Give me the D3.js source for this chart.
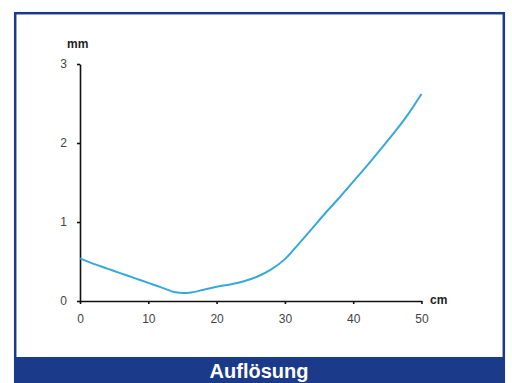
<!DOCTYPE html>
<html>
<head>
  <meta charset="utf-8">
  <title>Auflösung</title>
  <script src="https://cdnjs.cloudflare.com/ajax/libs/d3/7.8.5/d3.min.js"></script>
  <style>
    body { margin: 0; background: #fff; }
    svg { display: block; font-family: "Liberation Sans", Arial, sans-serif; }
  </style>
</head>
<body>
<div id="chart"></div>
<script>
    // distance (cm) vs. resolution (mm)
    var cm = [0, 2, 4, 6, 8, 10, 12, 14, 16, 18, 20, 22, 24, 26, 28, 30, 32, 34, 36, 38, 40, 42, 44, 46, 48, 50];
    var mm = [0.54, 0.47, 0.41, 0.35, 0.29, 0.23, 0.17, 0.11, 0.105, 0.14, 0.18, 0.21, 0.25, 0.31, 0.40, 0.53, 0.72, 0.92, 1.12, 1.31, 1.51, 1.71, 1.92, 2.13, 2.36, 2.62];
    var xTicks = [0, 10, 20, 30, 40, 50];
    var yTicks = [0, 1, 2, 3];
    var title = "Auflösung";

    var W = 512, H = 383;
    var blue = "#1c3a8a";

    var svg = d3.select("#chart").append("svg")
        .attr("width", W)
        .attr("height", H);

    // frame
    svg.append("rect")
        .attr("x", 15.2).attr("y", 13.2)
        .attr("width", 488.6).attr("height", 372)
        .attr("fill", "#fff")
        .attr("stroke", blue)
        .attr("stroke-width", 2.5);

    svg.append("rect")
        .attr("x", 14).attr("y", 357)
        .attr("width", 491).attr("height", 26)
        .attr("fill", blue);

    svg.append("text")
        .attr("x", 259).attr("y", 378)
        .attr("text-anchor", "middle")
        .attr("fill", "#fff")
        .style("font-size", "20px")
        .style("font-weight", "bold")
        .text(title);

    var x = d3.scaleLinear().domain([0, 50]).range([80, 421.5]);
    var y = d3.scaleLinear().domain([0, 3]).range([301, 64]);

    var xAxis = svg.append("g")
        .attr("transform", "translate(0," + y(0) + ")")
        .call(d3.axisBottom(x).tickValues(xTicks).tickFormat(d3.format("d"))
            .tickSize(3).tickPadding(10).tickSizeOuter(0));

    var yAxis = svg.append("g")
        .attr("transform", "translate(" + x(0) + ",0)")
        .call(d3.axisLeft(y).tickValues(yTicks).tickFormat(d3.format("d"))
            .tickSize(3).tickPadding(10).tickSizeOuter(0));

    [xAxis, yAxis].forEach(function (g) {
        g.select(".domain").attr("stroke", "#111").attr("stroke-width", 1.6);
        g.selectAll(".tick line").attr("stroke", "#111").attr("stroke-width", 1.6);
        g.selectAll(".tick text")
            .attr("fill", "#444")
            .style("font-size", "12px")
            .style("font-family", "'Liberation Sans', Arial, sans-serif");
    });

    svg.append("text")
        .attr("x", 67).attr("y", 48)
        .attr("fill", "#222")
        .style("font-size", "12px")
        .style("font-weight", "bold")
        .text("mm");

    svg.append("text")
        .attr("x", 430).attr("y", 304)
        .attr("fill", "#222")
        .style("font-size", "12px")
        .style("font-weight", "bold")
        .text("cm");

    var data = cm.map(function (d, i) { return { cm: d, mm: mm[i] }; });

    svg.append("path")
        .datum(data)
        .attr("fill", "none")
        .attr("stroke", "#36a9da")
        .attr("stroke-width", 2)
        .attr("d", d3.line()
            .curve(d3.curveCatmullRom.alpha(0.5))
            .x(function (d) { return x(d.cm); })
            .y(function (d) { return y(d.mm); })
        );
</script>
</body>
</html>
